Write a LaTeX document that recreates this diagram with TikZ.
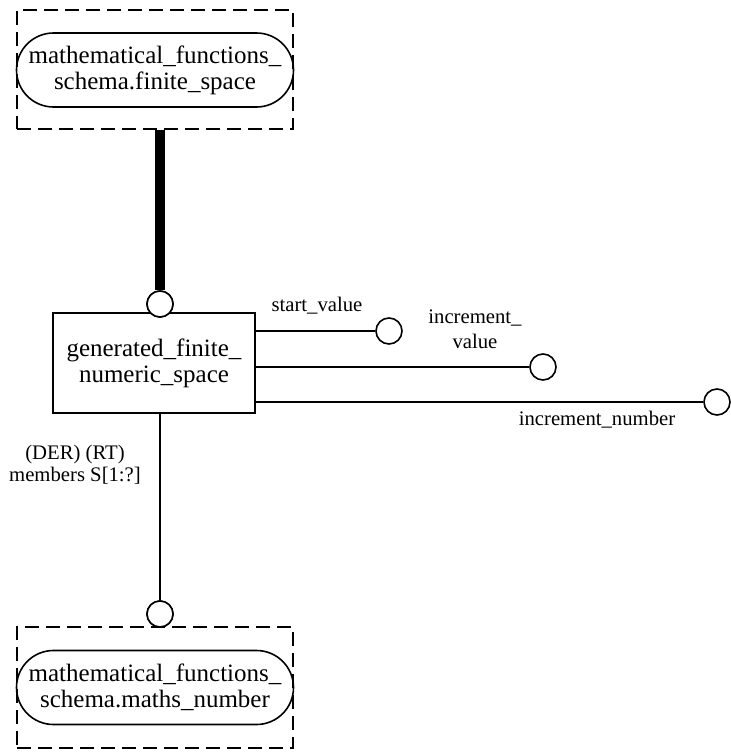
\documentclass[tikz,border=0pt]{standalone}
\usepackage{fontspec}
\setmainfont{Liberation Serif}
\begin{document}
\begin{tikzpicture}[x=1pt,y=-1pt,
  line width=1.6pt,
  bigtext/.style={font=\fontsize{25}{26}\selectfont, align=center},
  smalltext/.style={font=\fontsize{20.7}{25}\selectfont, align=center, inner sep=0pt},
  dashbox/.style={draw, dash pattern=on 14pt off 7pt, minimum width=276pt, inner sep=0pt},
  pill/.style={draw, rounded corners=37pt, minimum width=277pt, minimum height=74pt, inner sep=0pt, bigtext},
  entity/.style={draw, minimum width=202pt, minimum height=100pt, inner sep=0pt, bigtext},
  endcirc/.style={draw, circle, minimum size=26pt, inner sep=0pt, fill=white},
  thickline/.style={line width=10pt}
]
\useasboundingbox (0,0) rectangle (731,753);

% upper referenced schema entity
\node[dashbox, minimum height=119pt] (topbox) at (155,69.5) {};
\node[pill] (toplabel) at (155,70) {mathematical\_functions\_\\schema.finite\_space};

% the entity itself
\node[entity] (main) at (154,363) {generated\_finite\_\\numeric\_space};

% supertype link
\node[endcirc] (supc) at (160,304) {};
\draw[thickline] (supc.north) -- (supc.north |- topbox.south);
\node[endcirc] (supc2) at (160,304) {};

% attributes
\node[endcirc] (svc) at (389,331) {};
\node[endcirc] (ivc) at (543,367) {};
\node[endcirc] (inc) at (717,402) {};
\draw (main.east |- svc) -- (svc.west);
\draw (main.east |- ivc) -- (ivc.west);
\draw (main.east |- inc) -- (inc.west);
\node[smalltext] (svl) at (317,306) {start\_value};
\node[smalltext, font=\fontsize{20.7}{25}\selectfont] (ivl) at (475,329) {increment\_\\value};
\node[smalltext] (inl) at (597,420) {increment\_number};

% lower referenced schema entity
\node[endcirc] (memc) at (160,614) {};
\node[dashbox, minimum height=121pt] (botbox) at (155,687.5) {};
\node[pill] (botlabel) at (155,687.5) {mathematical\_functions\_\\schema.maths\_number};
\draw (main.south -| memc) -- (memc.north);
\node[endcirc] (memc2) at (160,614) {};
\node[smalltext, font=\fontsize{20.7}{22}\selectfont] (meml) at (75,465) {(DER) (RT)\\members S[1:?]};
\end{tikzpicture}
\end{document}
